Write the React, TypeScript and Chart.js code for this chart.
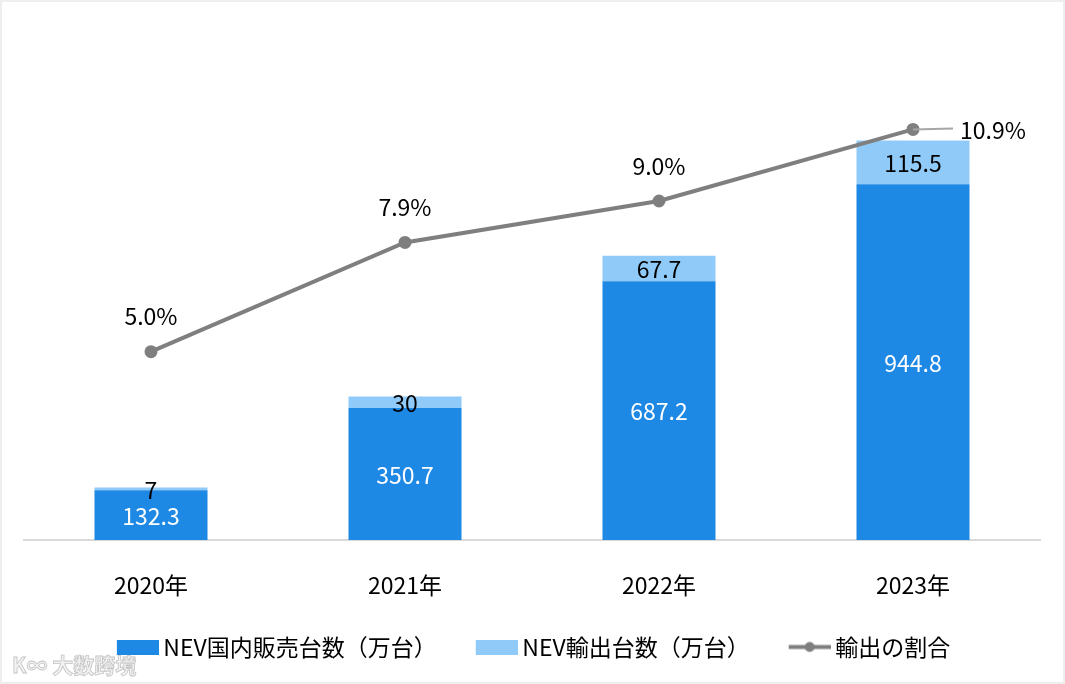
import React, { useEffect, useRef } from 'react';
import { Chart, registerables } from 'chart.js';

Chart.register(...registerables);

const categories = ['2020年', '2021年', '2022年', '2023年'];
const domesticSales = [132.3, 350.7, 687.2, 944.8];
const exportSales = [7, 30, 67.7, 115.5];
const exportRatio = [5.0, 7.9, 9.0, 10.9];
const seriesNames = ['NEV国内販売台数（万台）', 'NEV輸出台数（万台）', '輸出の割合'];

const FONT = '"Noto Sans CJK JP", "Noto Sans", sans-serif';
const FONT_SIZE = 23;
const BLUE = '#1E88E5';
const LIGHT = '#90CAF9';
const GRAY = '#7F7F7F';

// legend swatch: transparent lead-in, then a 42x15 visible marker
const SW_LEAD = 34;
const SW_W = 42;
const SW_H = 15;

function makeSwatch(kind: string): HTMLCanvasElement {
  const c = document.createElement('canvas');
  c.width = SW_LEAD + SW_W;
  c.height = SW_H;
  const g = c.getContext('2d')!;
  if (kind === 'line') {
    g.strokeStyle = GRAY;
    g.lineWidth = 4;
    g.beginPath();
    g.moveTo(SW_LEAD, SW_H / 2);
    g.lineTo(SW_LEAD + SW_W, SW_H / 2);
    g.stroke();
    g.fillStyle = GRAY;
    g.beginPath();
    g.arc(SW_LEAD + SW_W / 2, SW_H / 2, 5, 0, Math.PI * 2);
    g.fill();
  } else {
    g.fillStyle = kind;
    g.fillRect(SW_LEAD, 0, SW_W, SW_H);
  }
  return c;
}

const labelPlugin = {
  id: 'valueLabels',
  afterDatasetsDraw(chart: any) {
    const ctx = chart.ctx as CanvasRenderingContext2D;
    ctx.save();
    ctx.font = `${FONT_SIZE}px ${FONT}`;
    ctx.textAlign = 'center';
    ctx.textBaseline = 'middle';
    const m0 = chart.getDatasetMeta(0);
    const m1 = chart.getDatasetMeta(1);
    const m2 = chart.getDatasetMeta(2);
    m0.data.forEach((bar: any, i: number) => {
      ctx.fillStyle = '#ffffff';
      ctx.fillText(String(domesticSales[i]), bar.x, (bar.y + bar.base) / 2 + 1);
    });
    m1.data.forEach((bar: any, i: number) => {
      ctx.fillStyle = '#000000';
      ctx.fillText(String(exportSales[i]), bar.x, (bar.y + bar.base) / 2 + 1);
    });
    const last = exportRatio.length - 1;
    m2.data.forEach((pt: any, i: number) => {
      const txt = exportRatio[i].toFixed(1) + '%';
      ctx.fillStyle = '#000000';
      if (i === last) {
        ctx.strokeStyle = '#A6A6A6';
        ctx.lineWidth = 2;
        ctx.beginPath();
        ctx.moveTo(pt.x, pt.y);
        ctx.lineTo(pt.x + 40, pt.y - 1);
        ctx.stroke();
        ctx.textAlign = 'left';
        ctx.fillText(txt, pt.x + 47, pt.y + 1);
        ctx.textAlign = 'center';
      } else {
        ctx.fillText(txt, pt.x, pt.y - 35);
      }
    });
    ctx.restore();
  },
};

export default function App() {
  const ref = useRef<HTMLCanvasElement | null>(null);

  useEffect(() => {
    if (!ref.current) return;
    const swatches = [makeSwatch(BLUE), makeSwatch(LIGHT), makeSwatch('line')];
    const chart = new Chart(ref.current, {
      type: 'bar',
      data: {
        labels: categories,
        datasets: [
          {
            type: 'bar',
            label: seriesNames[0],
            data: domesticSales,
            backgroundColor: BLUE,
            stack: 's',
            yAxisID: 'y',
            order: 2,
            barPercentage: 0.445,
            categoryPercentage: 1,
          },
          {
            type: 'bar',
            label: seriesNames[1],
            data: exportSales,
            backgroundColor: LIGHT,
            stack: 's',
            yAxisID: 'y',
            order: 2,
            barPercentage: 0.445,
            categoryPercentage: 1,
          },
          {
            type: 'line',
            label: seriesNames[2],
            data: exportRatio,
            borderColor: GRAY,
            backgroundColor: GRAY,
            borderWidth: 4,
            pointRadius: 4.5,
            pointBackgroundColor: GRAY,
            pointBorderColor: GRAY,
            yAxisID: 'y2',
            order: 0,
            tension: 0,
          },
        ] as any,
      },
      options: {
        responsive: false,
        animation: false,
        events: [],
        layout: { padding: { left: 0, right: 25, top: 88, bottom: 15.5 } },
        scales: {
          x: {
            stacked: true,
            grid: { display: false, drawTicks: false },
            border: { display: true, color: '#D9D9D9', width: 2 },
            ticks: { color: '#000000', font: { family: FONT, size: FONT_SIZE }, padding: 31 },
            afterFit: (s: any) => {
              s.height = 83.5;
            },
          },
          y: {
            stacked: true,
            display: true,
            min: 0,
            max: 1200,
            ticks: { display: false },
            grid: { display: false },
            border: { display: false },
            afterFit: (s: any) => {
              s.width = 24;
            },
          },
          y2: { display: false, min: 0, max: 12, position: 'right' },
        } as any,
        plugins: {
          tooltip: { enabled: false },
          legend: {
            position: 'bottom',
            labels: {
              usePointStyle: true,
              pointStyleWidth: SW_LEAD + SW_W - 14,
              boxHeight: SW_H,
              padding: 12,
              color: '#000000',
              font: { family: FONT, size: FONT_SIZE },
              generateLabels: () =>
                seriesNames.map((t, i) => ({
                  text: t,
                  pointStyle: swatches[i],
                  fillStyle: 'transparent',
                  strokeStyle: 'transparent',
                  lineWidth: 0,
                  hidden: false,
                  datasetIndex: i,
                  fontColor: '#000000',
                })) as any,
            },
          },
        },
      },
      plugins: [labelPlugin],
    });
    return () => chart.destroy();
  }, []);

  return (
    <div
      style={{
        position: 'fixed',
        left: 0,
        top: 0,
        width: 1065,
        height: 684,
        background: '#ffffff',
        overflow: 'hidden',
      }}
    >
      <canvas ref={ref} width={1065} height={684} style={{ display: 'block', width: 1065, height: 684 }} />
      <span
        style={{
          position: 'absolute',
          left: 12,
          top: 649,
          fontFamily: FONT,
          fontSize: 21,
          fontWeight: 700,
          color: '#F2F2F2',
          WebkitTextStroke: '0.8px #C4C4C4',
          letterSpacing: 0,
          whiteSpace: 'nowrap',
        }}
      >
        K∞ 大数跨境
      </span>
      <div
        style={{
          position: 'absolute',
          left: 0,
          top: 0,
          width: 1065,
          height: 684,
          border: '2px solid #EEEEEE',
          boxSizing: 'border-box',
          pointerEvents: 'none',
        }}
      />
    </div>
  );
}
